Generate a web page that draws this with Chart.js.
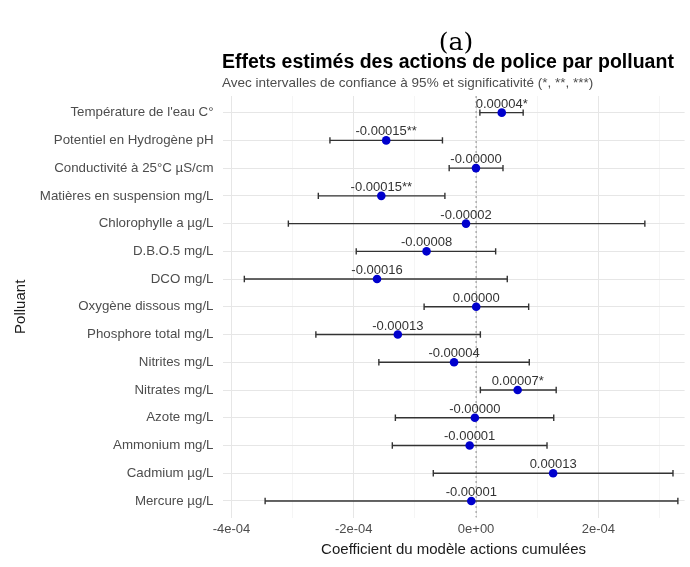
<!DOCTYPE html>
<html>
<head>
<meta charset="utf-8">
<script src="https://cdn.jsdelivr.net/npm/chart.js@4.4.1/dist/chart.umd.min.js"></script>
<style>
  html, body { margin: 0; padding: 0; background: #ffffff; overflow: hidden; }
  #wrap { width: 690px; height: 567px; position: relative; }
</style>
</head>
<body>
<div id="wrap"><canvas id="c" width="690" height="567"></canvas></div>
<script>
// ---- data ----
const categories = [
  "Température de l'eau C°",
  "Potentiel en Hydrogène pH",
  "Conductivité à 25°C µS/cm",
  "Matières en suspension mg/L",
  "Chlorophylle a µg/L",
  "D.B.O.5 mg/L",
  "DCO mg/L",
  "Oxygène dissous mg/L",
  "Phosphore total mg/L",
  "Nitrites mg/L",
  "Nitrates mg/L",
  "Azote mg/L",
  "Ammonium mg/L",
  "Cadmium µg/L",
  "Mercure µg/L"
];
const estimates = [4.2e-5, -1.47e-4, -0.2e-6, -1.55e-4, -1.65e-5, -8.1e-5, -1.62e-4, 0.2e-6,
                   -1.28e-4, -3.6e-5, 6.8e-5, -2e-6, -1.05e-5, 1.26e-4, -7.8e-6];
const lowerCI = [0.62e-5, -2.39e-4, -0.44e-4, -2.58e-4, -3.07e-4, -1.96e-4, -3.79e-4, -0.85e-4,
                 -2.62e-4, -1.59e-4, 0.07e-4, -1.32e-4, -1.37e-4, -0.70e-4, -3.45e-4];
const upperCI = [7.7e-5, -0.55e-4, 0.44e-4, -0.51e-4, 2.76e-4, 0.32e-4, 0.51e-4, 0.86e-4,
                 0.07e-4, 0.87e-4, 1.31e-4, 1.27e-4, 1.16e-4, 3.22e-4, 3.30e-4];
const valueLabels = ["0.00004*", "-0.00015**", "-0.00000", "-0.00015**", "-0.00002", "-0.00008",
                     "-0.00016", "0.00000", "-0.00013", "-0.00004", "0.00007*", "-0.00000",
                     "-0.00001", "0.00013", "-0.00001"];
const xTickLabels = {"-4": "-4e-04", "-2": "-2e-04", "0": "0e+00", "2": "2e-04"};

const FONT = "'Liberation Sans', Arial, sans-serif";

// ---- datasets built from the arrays ----
const datasets = [];
// dotted zero reference line
datasets.push({
  type: 'line',
  data: [{x: 0, y: -0.6}, {x: 0, y: 14.6}],
  borderColor: '#8c8c8c', borderWidth: 1, borderDash: [2, 3],
  pointRadius: 0, fill: false, order: 5
});
// error bars
categories.forEach((c, i) => {
  datasets.push({
    type: 'line',
    data: [{x: lowerCI[i], y: i}, {x: upperCI[i], y: i}],
    borderColor: '#333333', borderWidth: 1.4,
    pointRadius: 0, fill: false, order: 3
  });
});
// caps
const caps = [];
categories.forEach((c, i) => { caps.push({x: lowerCI[i], y: i}); caps.push({x: upperCI[i], y: i}); });
datasets.push({
  type: 'scatter',
  data: caps,
  pointStyle: 'line', rotation: 90, radius: 3.2,
  borderColor: '#333333', borderWidth: 1.4, order: 2
});
// estimates
datasets.push({
  type: 'scatter',
  data: estimates.map((v, i) => ({x: v, y: i})),
  pointStyle: 'circle', radius: 4.3,
  backgroundColor: '#0000CD', borderColor: '#0000CD', borderWidth: 0, order: 1
});

const textPlugin = {
  id: 'texts',
  beforeDraw(chart) {
    const ctx = chart.ctx;
    ctx.save();
    ctx.fillStyle = '#ffffff';
    ctx.fillRect(0, 0, chart.width, chart.height);
    ctx.fillStyle = '#000000';
    ctx.textAlign = 'center';
    ctx.textBaseline = 'alphabetic';
    ctx.font = "25px 'DejaVu Serif', 'Liberation Serif', serif";
    ctx.fillText('(a)', 456, 50);
    ctx.textAlign = 'left';
    ctx.font = "bold 19.5px " + FONT;
    ctx.fillStyle = '#000000';
    ctx.fillText('Effets estimés des actions de police par polluant', 222, 68);
    ctx.font = "13.5px " + FONT;
    ctx.fillStyle = '#4d4d4d';
    ctx.fillText('Avec intervalles de confiance à 95% et significativité (*, **, ***)', 222, 87);
    ctx.restore();
  },
  afterDatasetsDraw(chart) {
    const ctx = chart.ctx;
    const xs = chart.scales.x, ys = chart.scales.y;
    ctx.save();
    ctx.font = "13px " + FONT;
    ctx.fillStyle = '#333333';
    ctx.textAlign = 'center';
    ctx.textBaseline = 'alphabetic';
    valueLabels.forEach((t, i) => {
      ctx.fillText(t, xs.getPixelForValue(estimates[i]), ys.getPixelForValue(i) - 5);
    });
    ctx.restore();
  }
};

new Chart(document.getElementById('c'), {
  type: 'scatter',
  data: { datasets },
  plugins: [textPlugin],
  options: {
    responsive: false,
    animation: false,
    layout: { padding: { top: 96, left: 0, right: 0, bottom: 0 } },
    plugins: { legend: { display: false }, tooltip: { enabled: false } },
    scales: {
      x: {
        type: 'linear',
        min: -4.147e-4, max: 3.41e-4,
        border: { display: false },
        grid: {
          drawTicks: false,
          color: (ctx) => {
            const k = Math.round(ctx.tick.value * 1e4);
            return (k % 2 === 0) ? '#e6e6e6' : '#f1f1f1';
          },
          lineWidth: (ctx) => {
            const k = Math.round(ctx.tick.value * 1e4);
            return (k % 2 === 0) ? 1 : 0.7;
          }
        },
        ticks: {
          stepSize: 1e-4, includeBounds: false, autoSkip: false, maxRotation: 0,
          padding: 4, color: '#4d4d4d', font: { family: FONT, size: 13 },
          callback: (v) => {
            const k = String(Math.round(v * 1e4));
            return xTickLabels[k] !== undefined ? xTickLabels[k] : '';
          }
        },
        title: {
          display: true, text: 'Coefficient du modèle actions cumulées',
          color: '#1a1a1a', font: { family: FONT, size: 15 },
          padding: { top: 0, bottom: 8 }
        },
        afterFit: (s) => { s.height = 49.4; }
      },
      y: {
        type: 'linear',
        reverse: true,
        min: -0.6, max: 14.6,
        border: { display: false },
        grid: { drawTicks: false, color: '#e6e6e6', lineWidth: 1 },
        ticks: {
          stepSize: 1, includeBounds: false, autoSkip: false,
          padding: 9, color: '#4d4d4d', font: { family: FONT, size: 13.3 },
          callback: (v) => (Number.isInteger(v) && categories[v] !== undefined) ? categories[v] : ''
        },
        title: {
          display: true, text: 'Polluant',
          color: '#1a1a1a', font: { family: FONT, size: 15 },
          padding: { top: 12, bottom: 0 }
        },
        afterFit: (s) => { s.width = 222.5; }
      }
    }
  }
});
</script>
</body>
</html>
